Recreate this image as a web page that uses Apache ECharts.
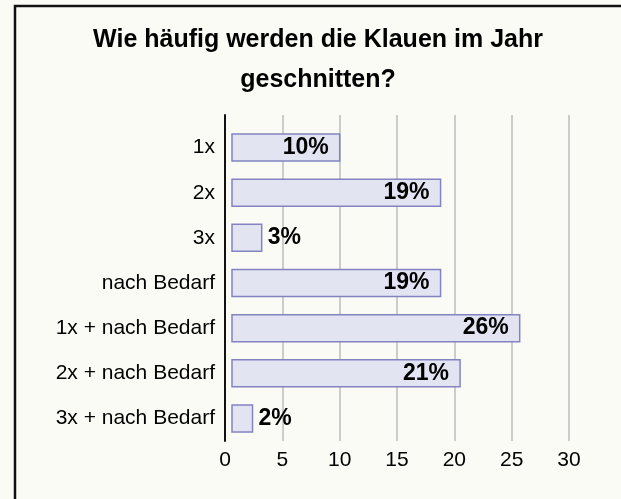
<!DOCTYPE html>
<html>
<head>
<meta charset="utf-8">
<title>Klauen schneiden</title>
<script src="https://cdn.jsdelivr.net/npm/echarts@6/dist/echarts.min.js"></script>
<style>
  html, body { margin: 0; padding: 0; background: #fbfbf6; }
  #chart { width: 621px; height: 499px; }
</style>
</head>
<body>
<div id="chart"></div>
<script>
// categories top to bottom
const categories = ["1x", "2x", "3x", "nach Bedarf", "1x + nach Bedarf", "2x + nach Bedarf", "3x + nach Bedarf"];
// share of answers in percent (bar length)
const shares = [10, 18.8, 3.2, 18.8, 25.7, 20.5, 2.4];
const titleText = "Wie häufig werden die Klauen im Jahr\ngeschnitten?";

const FONT = '"Liberation Sans", Arial, Helvetica, sans-serif';

const myChart = echarts.init(document.getElementById("chart"), null, { renderer: "canvas" });

function renderBar(params, api) {
  const i = api.value(1);
  const v = api.value(0);
  const start = api.coord([0, i]);
  const end = api.coord([v, i]);
  const h = 27;
  const x0 = start[0] + 7;
  const inside = v >= 8;
  return {
    type: "group",
    children: [
      {
        type: "rect",
        shape: { x: x0, y: end[1] - h / 2, width: end[0] - x0, height: h },
        style: { fill: "#e2e5f1", stroke: "#8383c2", lineWidth: 1.5 }
      },
      {
        type: "text",
        style: {
          text: Math.round(v) + "%",
          x: inside ? end[0] - 11 : end[0] + 6,
          y: end[1],
          align: inside ? "right" : "left",
          verticalAlign: "middle",
          fontSize: 23,
          fontWeight: "bold",
          fontFamily: FONT,
          fill: "#000"
        }
      }
    ]
  };
}

myChart.setOption({
  backgroundColor: "#fbfbf6",
  animation: false,
  graphic: [
    // frame: only the left and top edges are inside the picture
    {
      type: "polyline",
      shape: { points: [[15, 499], [15, 6], [621, 6]] },
      style: { fill: null, stroke: "#111", lineWidth: 2.5 },
      z: 10
    },
    {
      type: "text",
      x: 318,
      y: 20,
      style: {
        text: titleText,
        align: "center",
        verticalAlign: "top",
        fontSize: 25,
        fontWeight: "bold",
        lineHeight: 40,
        fontFamily: FONT,
        fill: "#000"
      }
    }
  ],
  grid: [
    // bars
    { left: 225, right: 52, top: 125, bottom: 58 },
    // grid lines and axis line
    { left: 225, right: 52, top: 115, bottom: 58 }
  ],
  xAxis: [
    { gridIndex: 0, type: "value", min: 0, max: 30, show: false },
    {
      gridIndex: 1,
      type: "value",
      min: 0,
      max: 30,
      interval: 5,
      axisLine: { show: false },
      axisTick: { show: false },
      axisLabel: { fontSize: 21, color: "#000", margin: 9, fontFamily: FONT },
      splitLine: { lineStyle: { color: "#bdbdbd", width: 1.5 } }
    }
  ],
  yAxis: [
    {
      gridIndex: 0,
      type: "category",
      inverse: true,
      data: categories,
      axisLine: { show: false },
      axisTick: { show: false },
      axisLabel: { fontSize: 21, color: "#000", margin: 10, fontFamily: FONT }
    },
    {
      gridIndex: 1,
      type: "value",
      min: 0,
      max: 1,
      axisLine: { show: true, lineStyle: { color: "#111", width: 2 } },
      axisTick: { show: false },
      axisLabel: { show: false },
      splitLine: { show: false }
    }
  ],
  series: [
    {
      type: "custom",
      xAxisIndex: 0,
      yAxisIndex: 0,
      renderItem: renderBar,
      encode: { x: 0, y: 1 },
      data: shares.map((v, i) => [v, i])
    }
  ]
});
</script>
</body>
</html>
